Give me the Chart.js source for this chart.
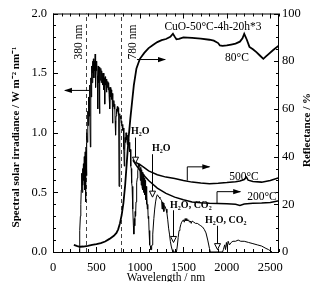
<!DOCTYPE html>
<html>
<head>
<meta charset="utf-8">
<script src="https://cdn.jsdelivr.net/npm/chart.js@4/dist/chart.umd.min.js"></script>
<style>
  body { margin: 0; background: #fff; }
  canvas { display: block; }
</style>
</head>
<body>
<canvas id="chart" width="318" height="282"></canvas>
<script>
const SERIF = "'Liberation Serif', 'Times New Roman', serif";

// solar spectrum, left axis (W m-2 nm-1)
const solarNm = [
  300, 305, 310, 315, 320, 325, 330, 335, 340, 345,
  350, 355, 360, 365, 370, 375, 380, 385, 390, 395,
  400, 405, 410, 415, 420, 425, 430, 435, 440, 445,
  450, 455, 460, 465, 470, 475, 480, 485, 490, 495,
  500, 505, 510, 515, 520, 525, 530, 535, 540, 545,
  550, 555, 560, 565, 570, 575, 580, 585, 590, 595,
  600, 605, 610, 615, 620, 625, 630, 635, 640, 645,
  650, 655, 660, 665, 670, 675, 680, 685, 690, 695,
  700, 705, 710, 715, 720, 725, 730, 735, 740, 745,
  750, 755, 760, 765, 770, 775, 780, 785, 790, 795,
  800, 805, 810, 815, 820, 825, 830, 835, 840, 845,
  850, 855, 860, 865, 870, 875, 880, 885, 890, 895,
  900, 905, 910, 915, 920, 925, 930, 935, 940, 945,
  950, 955, 960, 965, 970, 975, 980, 985, 990, 995,
  1000, 1005, 1010, 1015, 1020, 1025, 1030, 1035, 1040, 1045,
  1050, 1055, 1060, 1065, 1070, 1075, 1080, 1085, 1090, 1095,
  1100, 1105, 1110, 1115, 1120, 1125, 1130, 1135, 1140, 1145,
  1150, 1160, 1170, 1180, 1190, 1200, 1210, 1220, 1230, 1240,
  1250, 1255, 1260, 1270, 1275, 1280, 1290, 1300, 1310, 1320,
  1330, 1340, 1350, 1360, 1370, 1380, 1420, 1430, 1440, 1450,
  1460, 1470, 1480, 1490, 1500, 1510, 1520, 1530, 1540, 1550,
  1560, 1570, 1580, 1590, 1600, 1620, 1640, 1660, 1680, 1700,
  1720, 1740, 1760, 1780, 1800, 1810, 1950, 1960, 1975, 1985,
  1995, 2005, 2015, 2030, 2050, 2070, 2100, 2130, 2160, 2200,
  2250, 2300, 2350, 2400, 2450, 2480, 2500, 2520
];
const solarIrr = [
  0.00, 0.06, 0.18, 0.30, 0.40, 0.52, 0.66, 0.50, 0.70, 0.56,
  0.74, 0.60, 0.80, 0.52, 0.84, 0.42, 0.88, 0.64, 1.00, 0.92,
  1.18, 1.06, 1.30, 1.14, 1.40, 1.20, 0.88, 1.46, 1.30, 1.56,
  1.42, 1.60, 1.50, 1.62, 1.46, 1.60, 1.52, 1.66, 1.38, 1.60,
  1.52, 1.58, 1.48, 1.20, 1.56, 1.42, 1.55, 1.16, 1.52, 1.44,
  1.54, 1.42, 1.52, 1.46, 1.50, 1.40, 1.50, 1.36, 1.46, 1.24,
  1.47, 1.40, 1.45, 1.34, 1.45, 1.38, 1.43, 1.36, 1.42, 1.32,
  1.38, 1.20, 1.38, 1.30, 1.36, 1.28, 1.33, 1.08, 1.28, 1.22,
  1.27, 1.20, 1.24, 1.10, 0.98, 1.14, 1.20, 1.16, 1.22, 1.18,
  1.21, 1.15, 0.55, 0.98, 1.16, 1.12, 1.14, 1.08, 1.10, 1.05,
  1.07, 1.02, 1.04, 0.86, 0.72, 0.84, 0.96, 0.92, 1.00, 0.94,
  0.97, 0.90, 0.98, 0.93, 0.95, 0.88, 0.92, 0.84, 0.86, 0.72,
  0.70, 0.58, 0.55, 0.40, 0.36, 0.22, 0.15, 0.28, 0.22, 0.34,
  0.30, 0.42, 0.45, 0.58, 0.62, 0.68, 0.70, 0.74, 0.72, 0.74,
  0.73, 0.60, 0.71, 0.56, 0.69, 0.54, 0.67, 0.52, 0.65, 0.50,
  0.62, 0.48, 0.60, 0.44, 0.55, 0.40, 0.48, 0.36, 0.40, 0.28,
  0.30, 0.18, 0.15, 0.06, 0.05, 0.02, 0.02, 0.05, 0.06, 0.12,
  0.15, 0.28, 0.36, 0.42, 0.46, 0.48, 0.47, 0.46, 0.45, 0.44,
  0.43, 0.36, 0.42, 0.41, 0.34, 0.39, 0.38, 0.36, 0.33, 0.27,
  0.20, 0.15, 0.09, 0.05, 0.02, 0.00, 0.00, 0.05, 0.12, 0.18,
  0.20, 0.23, 0.25, 0.26, 0.27, 0.25, 0.28, 0.26, 0.28, 0.26,
  0.27, 0.25, 0.26, 0.24, 0.26, 0.25, 0.24, 0.24, 0.23, 0.22,
  0.21, 0.19, 0.16, 0.10, 0.03, 0.00, 0.00, 0.02, 0.06, 0.02,
  0.08, 0.04, 0.09, 0.06, 0.08, 0.09, 0.09, 0.10, 0.09, 0.09,
  0.08, 0.07, 0.06, 0.05, 0.03, 0.02, 0.01, 0.00
];

// reflectance curves, right axis (%)
const r80Nm = [240, 280, 310, 350, 400, 450, 500, 550, 600, 650,
  700, 730, 750, 770, 790, 810, 830, 850, 870, 890,
  910, 930, 960, 1000, 1050, 1100, 1150, 1200, 1250, 1300,
  1350, 1380, 1400, 1420, 1450, 1500, 1600, 1700, 1800, 1850,
  1900, 1920, 1950, 2000, 2050, 2100, 2150, 2180, 2200, 2230,
  2260, 2300, 2340, 2380, 2420, 2450, 2480, 2530, 2600];
const r80 = [3.0, 2.5, 2.2, 2.3, 2.6, 3.0, 3.3, 3.7, 4.4, 5.5,
  6.8, 8.0, 9.5, 12.0, 15.5, 20.5, 28.0, 38.0, 48.0, 56.0,
  63.0, 70.0, 77.0, 81.0, 83.5, 85.5, 86.8, 88.0, 88.8, 89.3,
  90.2, 91.5, 90.3, 89.2, 89.4, 90.0, 89.8, 89.5, 89.0, 88.6,
  87.6, 86.6, 86.4, 86.6, 87.0, 87.4, 88.2, 89.6, 91.5, 89.0,
  86.0, 85.0, 83.8, 82.4, 81.0, 82.0, 83.0, 84.6, 86.6];

const r500Nm = [920, 950, 980, 1010, 1050, 1100, 1200, 1300, 1400, 1500,
  1600, 1700, 1800, 1900, 2000, 2100, 2150, 2200, 2225, 2245,
  2300, 2400, 2500, 2600];
const r500 = [38.8, 37.6, 37.0, 36.4, 35.4, 34.0, 32.4, 31.4, 30.8, 30.0,
  29.3, 28.9, 28.6, 28.8, 29.1, 29.5, 29.8, 30.4, 31.4, 30.1,
  29.6, 29.3, 30.0, 31.2];

const r200Nm = [920, 950, 980, 1000, 1050, 1100, 1200, 1300, 1400, 1500,
  1600, 1700, 1800, 1900, 2000, 2100, 2150, 2200, 2300, 2400,
  2500, 2600];
const r200 = [38.4, 36.8, 35.2, 34.3, 32.0, 30.0, 26.8, 24.6, 23.0, 21.9,
  21.0, 20.6, 20.4, 20.3, 20.2, 20.0, 19.5, 20.1, 20.4, 20.5,
  20.8, 21.5];

// tick labels
const xLabels = [0, 500, 1000, 1500, 2000, 2500];
const yLabels = [0.0, 0.5, 1.0, 1.5, 2.0];
const y2Labels = [0, 20, 40, 60, 80, 100];

const toPoints = (xs, ys) => xs.map((x, i) => ({ x: x, y: ys[i] }));

function arrowHead(ctx, x, y, dir) {
  // filled head, tip at (x, y); dir = 1 right, -1 left
  ctx.beginPath();
  ctx.moveTo(x, y);
  ctx.lineTo(x - dir * 8, y - 2.6);
  ctx.lineTo(x - dir * 8, y + 2.6);
  ctx.closePath();
  ctx.fill();
}

function openTriangle(ctx, x, tipY) {
  ctx.beginPath();
  ctx.moveTo(x, tipY);
  ctx.lineTo(x - 3, tipY - 6);
  ctx.lineTo(x + 3, tipY - 6);
  ctx.closePath();
  ctx.fillStyle = '#fff';
  ctx.fill();
  ctx.stroke();
  ctx.fillStyle = '#000';
}

const frameAndNotes = {
  id: 'frameAndNotes',
  beforeDatasetsDraw(chart) {
    const { ctx, chartArea: a, scales: { x } } = chart;
    ctx.save();
    ctx.strokeStyle = '#444';
    ctx.lineWidth = 1;
    ctx.setLineDash([4, 3]);
    [380, 780].forEach(nm => {
      const px = Math.round(x.getPixelForValue(nm)) + 0.5;
      ctx.beginPath();
      ctx.moveTo(px, a.bottom);
      ctx.lineTo(px, a.top);
      ctx.stroke();
    });
    ctx.restore();
  },
  afterDatasetsDraw(chart) {
    const { ctx, chartArea: a, scales: { x, y, y2 } } = chart;
    ctx.save();
    ctx.strokeStyle = '#000';
    ctx.fillStyle = '#000';
    ctx.lineWidth = 1;

    // frame
    ctx.strokeRect(a.left + 0.5, a.top + 0.5, a.right - a.left - 1, a.bottom - a.top);

    // inward ticks
    const isMajorX = v => xLabels.includes(v);
    x.ticks.forEach(t => {
      const px = Math.round(x.getPixelForValue(t.value)) + 0.5;
      const len = isMajorX(t.value) ? 5 : 3;
      ctx.beginPath();
      ctx.moveTo(px, a.bottom); ctx.lineTo(px, a.bottom - len);
      ctx.moveTo(px, a.top); ctx.lineTo(px, a.top + len);
      ctx.stroke();
    });
    y.ticks.forEach(t => {
      const py = Math.round(y.getPixelForValue(t.value)) + 0.5;
      const major = Math.round(t.value * 10) % 5 === 0;
      ctx.beginPath();
      ctx.moveTo(a.left, py); ctx.lineTo(a.left + (major ? 5 : 3), py);
      ctx.stroke();
    });
    y2.ticks.forEach(t => {
      const py = Math.round(y2.getPixelForValue(t.value)) + 0.5;
      const major = t.value % 20 === 0;
      ctx.beginPath();
      ctx.moveTo(a.right, py); ctx.lineTo(a.right - (major ? 5 : 3), py);
      ctx.stroke();
    });

    // arrows pointing to the axis each curve belongs to
    let py = y.getPixelForValue(1.355);
    ctx.beginPath();
    ctx.moveTo(x.getPixelForValue(414), py);
    ctx.lineTo(x.getPixelForValue(140), py);
    ctx.stroke();
    arrowHead(ctx, x.getPixelForValue(126), py, -1);

    py = y2.getPixelForValue(80.7);
    ctx.beginPath();
    ctx.moveTo(x.getPixelForValue(966), py);
    ctx.lineTo(x.getPixelForValue(1290), py);
    ctx.stroke();
    arrowHead(ctx, x.getPixelForValue(1300), py, 1);

    let px = x.getPixelForValue(1545);
    py = y2.getPixelForValue(35.7);
    ctx.beginPath();
    ctx.moveTo(px, y2.getPixelForValue(30.0));
    ctx.lineTo(px, py);
    ctx.lineTo(x.getPixelForValue(1800), py);
    ctx.stroke();
    arrowHead(ctx, x.getPixelForValue(1810), py, 1);

    px = x.getPixelForValue(1887);
    py = y2.getPixelForValue(25.3);
    ctx.beginPath();
    ctx.moveTo(px, y2.getPixelForValue(20.3));
    ctx.lineTo(px, py);
    ctx.lineTo(x.getPixelForValue(2155), py);
    ctx.stroke();
    arrowHead(ctx, x.getPixelForValue(2165), py, 1);

    // absorption bands
    [[943, 0.96, 0.745], [1136, 0.82, 0.46], [1384, 0.35, 0.08], [1884, 0.22, 0.02]].forEach(b => {
      const bx = Math.round(x.getPixelForValue(b[0])) + 0.5;
      const tip = y.getPixelForValue(b[2]);
      ctx.beginPath();
      ctx.moveTo(bx, y.getPixelForValue(b[1]));
      ctx.lineTo(bx, tip - 6);
      ctx.stroke();
      openTriangle(ctx, bx, tip);
    });

    ctx.font = 'bold 10px ' + SERIF;
    ctx.textBaseline = 'alphabetic';
    ctx.textAlign = 'left';
    ctx.fillText('H\u2082O', x.getPixelForValue(898), y.getPixelForValue(0.99));
    ctx.fillText('H\u2082O', x.getPixelForValue(1139), y.getPixelForValue(0.85));
    ctx.fillText('H\u2082O, CO\u2082', x.getPixelForValue(1347), y.getPixelForValue(0.37));
    ctx.fillText('H\u2082O, CO\u2082', x.getPixelForValue(1749), y.getPixelForValue(0.245));

    // curve labels
    ctx.font = '11.5px ' + SERIF;
    ctx.textAlign = 'center';
    ctx.textBaseline = 'middle';
    ctx.fillText('CuO-50\u00B0C-4h-20h*3', 213, 27);
    ctx.fillText('80\u00B0C', 237, 58);
    ctx.fillText('500\u00B0C', 244, 177);
    ctx.fillText('200\u00B0C', 262, 197);

    // wavelength marks
    ctx.font = '11.5px ' + SERIF;
    [[380, -7], [780, 12]].forEach(m => {
      ctx.save();
      ctx.translate(x.getPixelForValue(m[0]) + m[1], 42);
      ctx.rotate(-Math.PI / 2);
      ctx.fillText(m[0] + ' nm', 0, 0);
      ctx.restore();
    });

    // axis titles
    ctx.font = 'bold 11px ' + SERIF;
    ctx.save();
    ctx.translate(16, 137);
    ctx.rotate(-Math.PI / 2);
    ctx.fillText('Spectral solar irradiance / W m\u207B\u00B2 nm\u207B\u00B9', 0, 0);
    ctx.restore();
    ctx.save();
    ctx.translate(307, 130);
    ctx.rotate(-Math.PI / 2);
    ctx.fillText('Reflectance / %', 0, 0);
    ctx.restore();
    ctx.font = '11.5px ' + SERIF;
    ctx.fillText('Wavelength / nm', 166, 278);

    ctx.restore();
  }
};

const lineStyle = (data, axis, width) => ({
  data: data,
  yAxisID: axis,
  borderColor: '#000',
  borderWidth: width,
  pointRadius: 0,
  fill: false,
  tension: 0
});

new Chart(document.getElementById('chart'), {
  type: 'line',
  data: {
    datasets: [
      lineStyle(toPoints(solarNm, solarIrr), 'y', 1),
      lineStyle(toPoints(r80Nm, r80), 'y2', 1.8),
      lineStyle(toPoints(r500Nm, r500), 'y2', 1.5),
      lineStyle(toPoints(r200Nm, r200), 'y2', 1.5)
    ]
  },
  options: {
    responsive: false,
    animation: false,
    layout: { padding: { top: 13, left: 0, right: 0, bottom: 0 } },
    plugins: { legend: { display: false }, tooltip: { enabled: false } },
    scales: {
      x: {
        type: 'linear',
        min: 0,
        max: 2600,
        grid: { display: false, drawTicks: false },
        border: { display: false },
        afterFit: s => { s.height = 30; },
        ticks: {
          stepSize: 100,
          autoSkip: false,
          maxRotation: 0,
          padding: 8,
          color: '#000',
          font: { family: SERIF, size: 12.5 },
          callback: v => xLabels.includes(v) ? String(v) : ''
        }
      },
      y: {
        position: 'left',
        min: 0,
        max: 2,
        grid: { display: false, drawTicks: false },
        border: { display: false },
        afterFit: s => { s.width = 53; },
        ticks: {
          stepSize: 0.1,
          autoSkip: false,
          padding: 6,
          color: '#000',
          font: { family: SERIF, size: 12.5 },
          callback: v => {
            const r = Math.round(v * 10) / 10;
            return yLabels.includes(r) ? r.toFixed(1) : '';
          }
        }
      },
      y2: {
        position: 'right',
        min: 0,
        max: 100,
        grid: { display: false, drawTicks: false },
        border: { display: false },
        afterFit: s => { s.width = 39; },
        ticks: {
          stepSize: 5,
          autoSkip: false,
          padding: 3,
          color: '#000',
          font: { family: SERIF, size: 12.5 },
          callback: v => y2Labels.includes(v) ? String(v) : ''
        }
      }
    }
  },
  plugins: [frameAndNotes]
});
</script>
</body>
</html>
